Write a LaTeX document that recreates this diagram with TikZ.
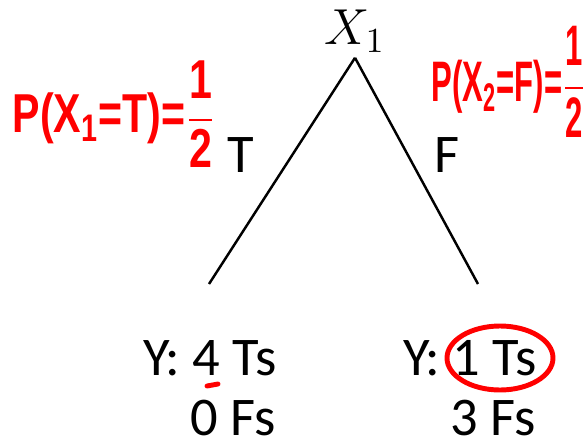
\documentclass[tikz,border=0pt]{standalone}
\usepackage{fontspec}
\usepackage{amsmath}
\setsansfont{Carlito}
\newfontfamily\penfont{Liberation Sans}
\usetikzlibrary{positioning}

\newcommand{\penhalf}{$\dfrac{\mbox{\penfont\bfseries 1}}{\mbox{\penfont\bfseries 2}}$}

\begin{document}
\begin{tikzpicture}[
  branch/.style={line width=0.7pt},
  lbl/.style={font=\sffamily\fontsize{15.5}{17}\selectfont, inner sep=0pt},
  leaf/.style={font=\sffamily\fontsize{15.5}{17}\selectfont, align=right, inner sep=0pt},
  ink/.style={red, line width=1.4pt, line cap=round},
  note/.style={red, font=\penfont\bfseries\fontsize{13}{14}\selectfont, inner sep=0pt}
]
\useasboundingbox (0,0) rectangle (5.86,4.44);

\node[inner sep=0.05cm, font=\fontsize{14.6}{16}\selectfont] (root) at (3.55,4.13) {$X_1$};
\coordinate (lend) at (2.09,1.60);
\coordinate (rend) at (4.78,1.60);

\draw[branch] (root.south) -- (lend);
\draw[branch] (root.south) -- (rend);

\node[lbl] (t) at (2.41,2.89) {T};
\node[lbl] (f) at (4.47,2.89) {F};

\node[leaf, anchor=north east] (left) at (2.77,1.04) {Y: 4 Ts\\0 Fs};
\node[leaf, anchor=north east] (right) at (5.37,1.04) {Y: 1 Ts\\3 Fs};

% red pen notes
\node[note, anchor=west] (pt) at (0.12,3.30) {\scalebox{0.9}[1.2]{P(X\textsubscript{1}=T)=\penhalf}};
\node[note, anchor=west] (pf) at (4.31,3.62) {\scalebox{0.68}[1.25]{P(X\textsubscript{2}=F)=\penhalf}};
\draw[ink] (5.00,0.86) ellipse (0.53 and 0.32);
\draw[ink] (2.07,0.58) -- (2.18,0.60);
\end{tikzpicture}
\end{document}
